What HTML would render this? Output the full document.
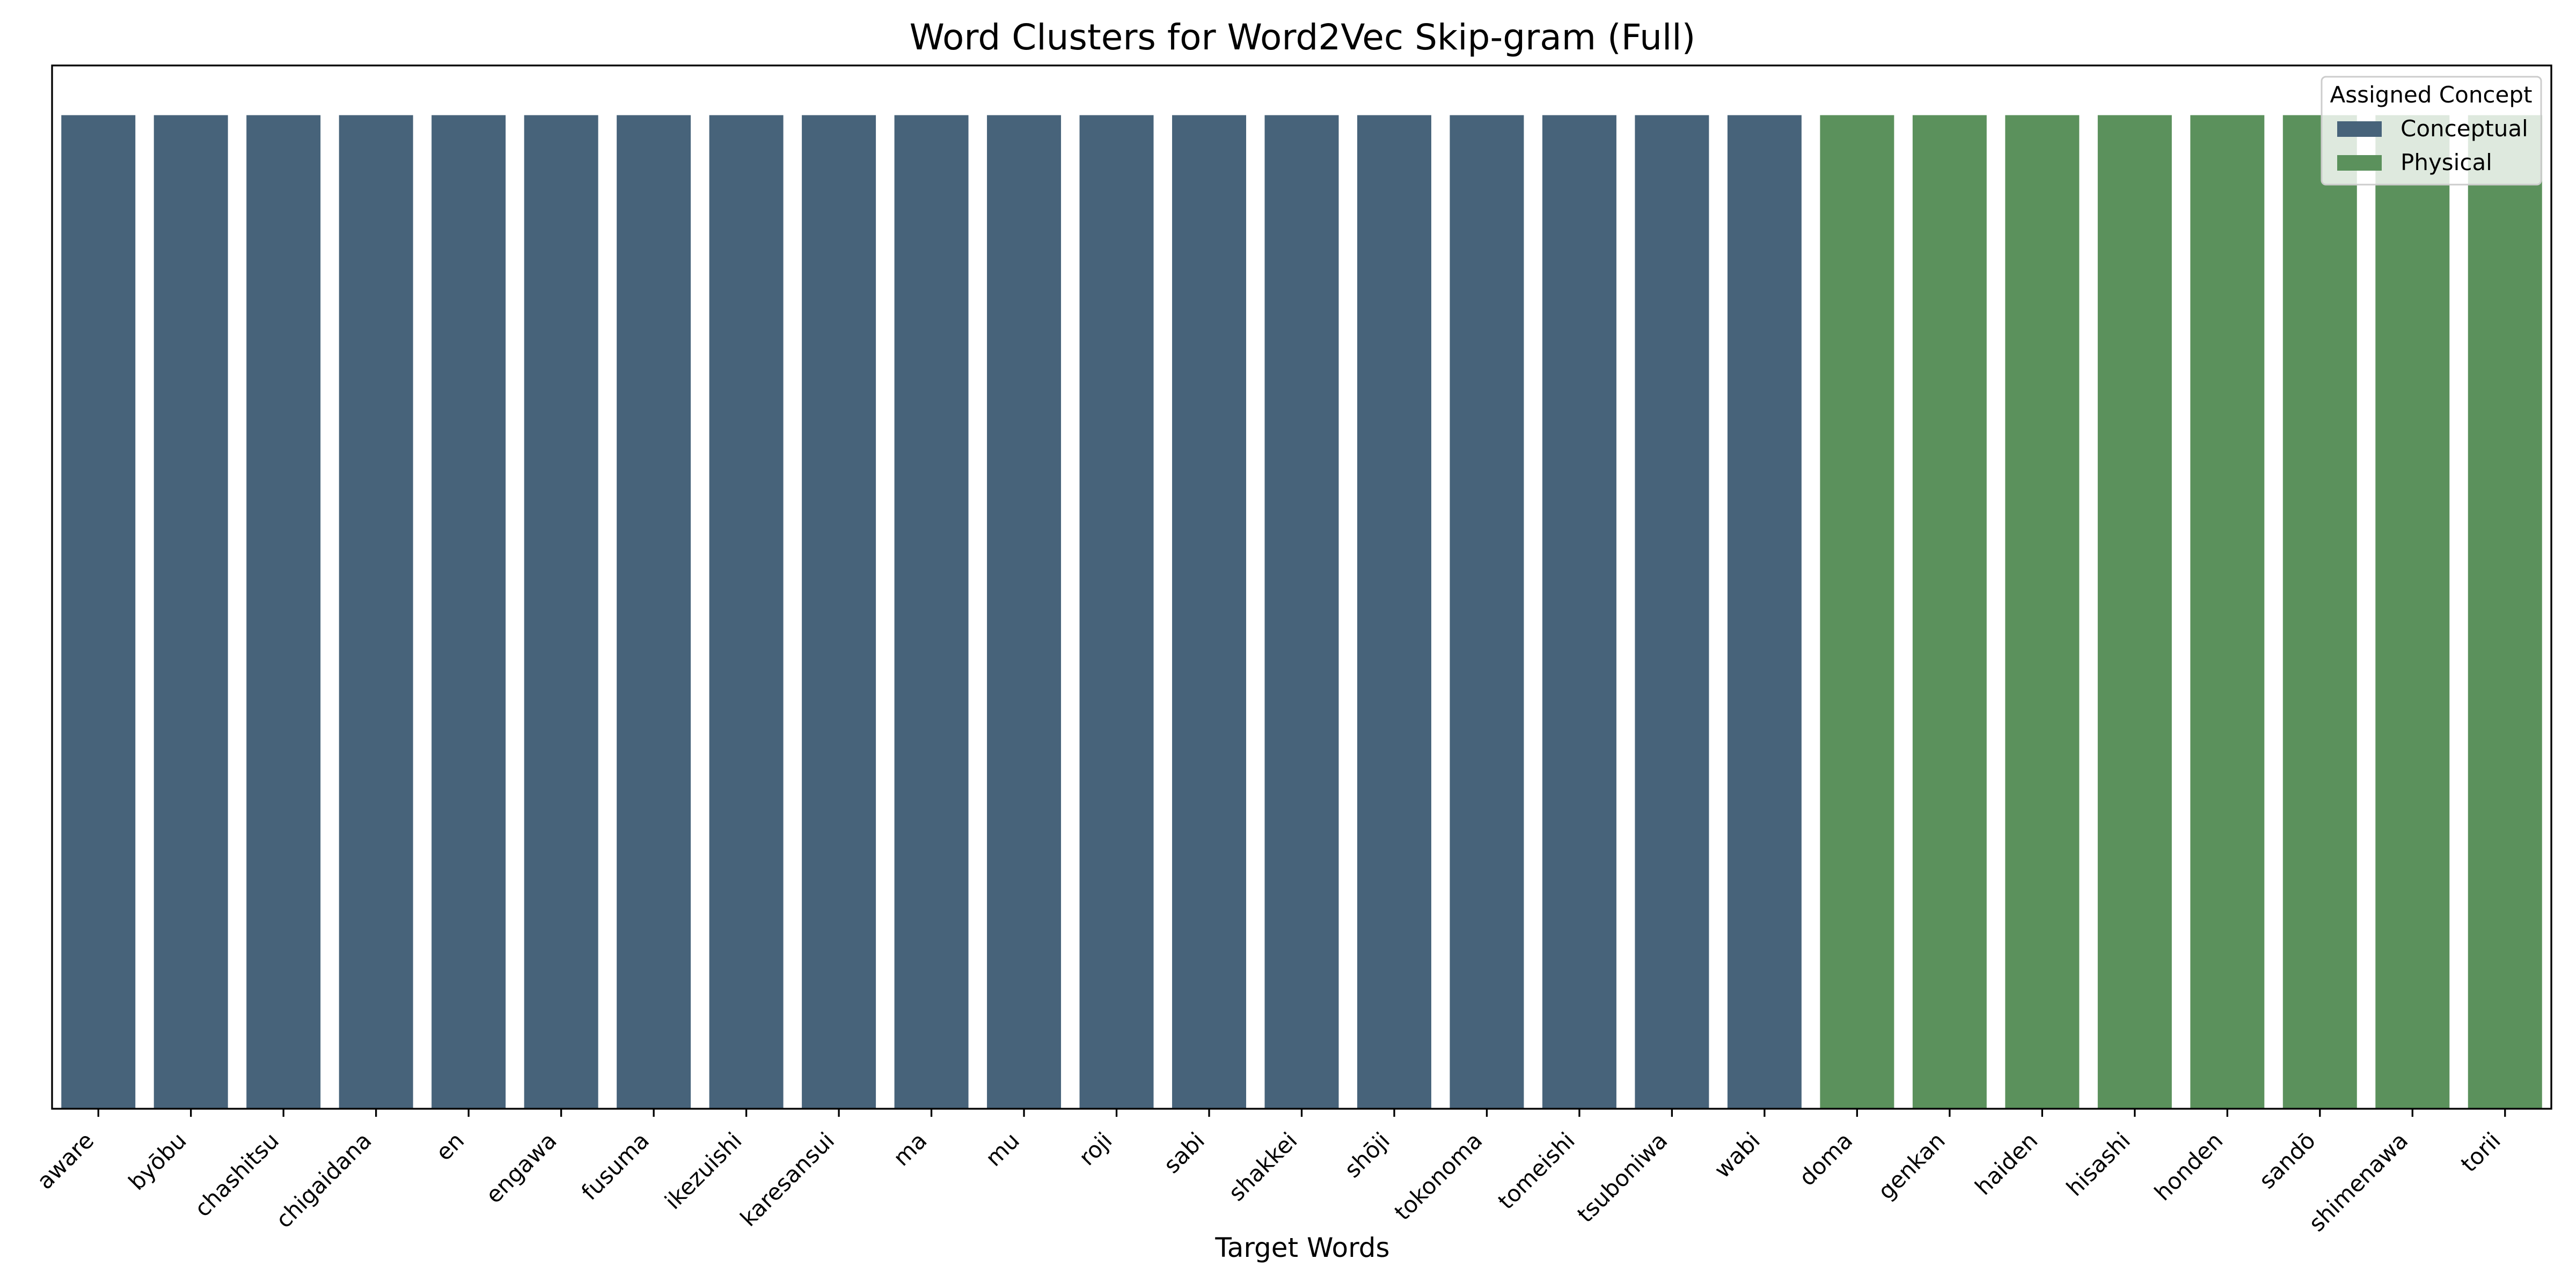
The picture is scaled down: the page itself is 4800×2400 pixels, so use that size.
<!DOCTYPE html>
<html><head><meta charset="utf-8"><style>
html,body{margin:0;padding:0;background:#fff}
svg{display:block;font-family:"DejaVu Sans","Liberation Sans",sans-serif}
</style></head><body>
<svg id="chart" width="4800" height="2400" viewBox="0 0 4800 2400" xmlns="http://www.w3.org/2000/svg">
<rect width="4800" height="2400" fill="#fff"/>
<text x="2427" y="92" font-size="66" text-anchor="middle">Word Clusters for Word2Vec Skip-gram (Full)</text>
<g id="bars"></g>
<g id="ticks"></g>
<rect x="97" y="122" width="4657" height="1944" fill="none" stroke="#000" stroke-width="3.3"/>
<text x="2427" y="2342" font-size="50" text-anchor="middle">Target Words</text>
<g>
<rect x="4326" y="143" width="409" height="201" rx="8" fill="#fff" fill-opacity="0.8" stroke="#cccccc" stroke-width="3"/>
<text x="4530" y="191" font-size="42" text-anchor="middle">Assigned Concept</text>
<rect x="4355" y="226" width="83" height="29" fill="#47637a"/>
<text x="4473" y="254" font-size="42">Conceptual</text>
<rect x="4355" y="289" width="83" height="29" fill="#5b915c"/>
<text x="4473" y="317" font-size="42">Physical</text>
</g>
</svg>
<script>
const words = ["aware","byōbu","chashitsu","chigaidana","en","engawa","fusuma","ikezuishi","karesansui","ma","mu","roji","sabi","shakkei","shōji","tokonoma","tomeishi","tsuboniwa","wabi","doma","genkan","haiden","hisashi","honden","sandō","shimenawa","torii"];
const values = [1,1,1,1,1,1,1,1,1,1,1,1,1,1,1,1,1,1,1,1,1,1,1,1,1,1,1];
const concepts = ["Conceptual","Conceptual","Conceptual","Conceptual","Conceptual","Conceptual","Conceptual","Conceptual","Conceptual","Conceptual","Conceptual","Conceptual","Conceptual","Conceptual","Conceptual","Conceptual","Conceptual","Conceptual","Conceptual","Physical","Physical","Physical","Physical","Physical","Physical","Physical","Physical"];
const colorMap = {Conceptual:"#47637a", Physical:"#5b915c"};
const X0=97, X1=4754, Y0=122, Y1=2066, YMAX=1.05;
const n = words.length;
const bw = (X1-X0)/n;
function xPos(i){ return X0 + (i+0.5)*bw; }
function yPos(v){ return Y1 - (Y1-Y0)*v/YMAX; }
const NS="http://www.w3.org/2000/svg";
const gb=document.getElementById('bars'), gt=document.getElementById('ticks');
for(let i=0;i<n;i++){
  const cx=xPos(i), w=bw*0.8;
  const r=document.createElementNS(NS,'rect');
  r.setAttribute('x',cx-w/2); r.setAttribute('width',w);
  r.setAttribute('y',yPos(values[i])); r.setAttribute('height',Y1-yPos(values[i]));
  r.setAttribute('fill',colorMap[concepts[i]]);
  
  
  gb.appendChild(r);
  const l=document.createElementNS(NS,'line');
  l.setAttribute('x1',cx); l.setAttribute('x2',cx); l.setAttribute('y1',Y1); l.setAttribute('y2',Y1+15);
  l.setAttribute('stroke','#000'); l.setAttribute('stroke-width','3.3');
  
  
  gt.appendChild(l);
  const t=document.createElementNS(NS,'text');
  const px=cx-6, py=Y1+62;
  t.setAttribute('x',px); t.setAttribute('y',py);
  t.setAttribute('text-anchor','end'); t.setAttribute('font-size','42');
  t.setAttribute('transform','rotate(-45 '+px+' '+py+')');
  t.textContent=words[i];
  
  
  gt.appendChild(t);
}
</script>
</body></html>
